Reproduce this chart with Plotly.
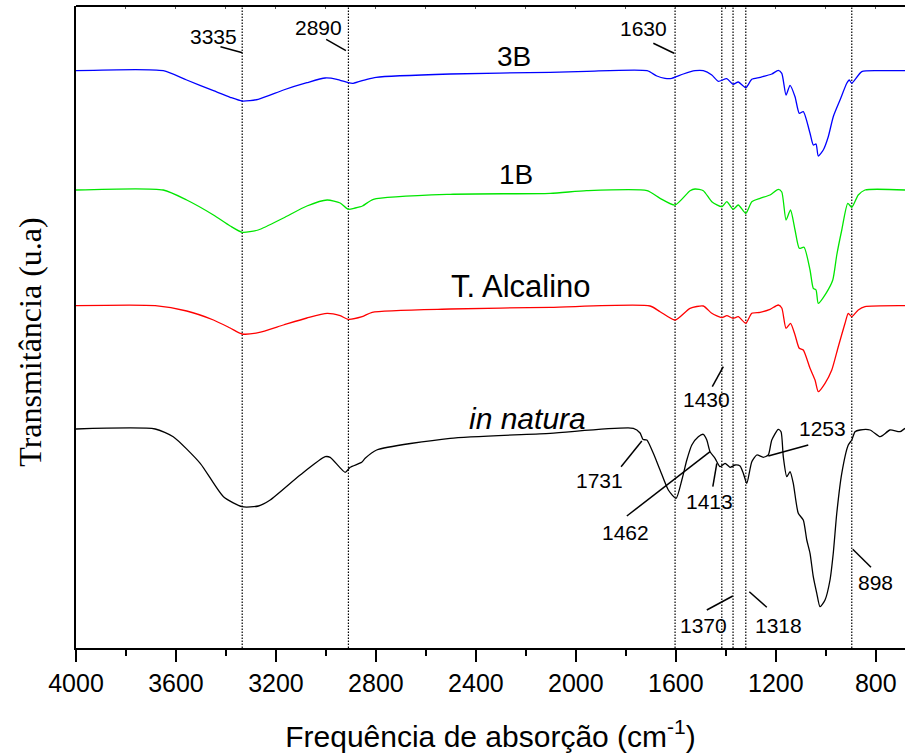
import plotly.graph_objects as go

# ---------------- data ----------------
# wavenumber (cm-1), transmittance (arbitrary units, offset spectra)
SPEC_3B = [
    (4000, 577.3), (3651, 577.3), (3557, 568), (3450, 557.3), (3383, 550.7), (3335, 547),
    (3271, 548.7), (3170, 558), (3076, 565.3), (3003, 570), (2956, 568.7), (2911, 565.3),
    (2891, 564.7), (2836, 568.7), (2799, 570.7), (2503, 574), (2103, 575.7), (1955, 576.7),
    (1715, 577.3), (1676, 572), (1643, 569.7), (1616, 569.7), (1570, 574), (1523, 577.3),
    (1490, 577.3), (1456, 573), (1430, 566.7), (1396, 569.3), (1371, 563.7), (1350, 566),
    (1320, 560.3), (1296, 568.7), (1263, 570.7), (1216, 574), (1190, 577.7), (1176, 574.7),
    (1159, 553), (1143, 562.7), (1123, 551.3), (1106, 534.7), (1090, 536.3), (1063, 514.7),
    (1050, 503), (1039, 504), (1030, 492), (1010, 498), (990, 511.3), (970, 531.3),
    (943, 548), (916, 564.7), (906, 568), (896, 564.7), (856, 576.3), (783, 577.3), (683, 577.3),
]
SPEC_1B = [
    (4000, 458), (3651, 458), (3557, 448), (3450, 433), (3383, 422), (3335, 415.7),
    (3271, 418), (3170, 430), (3076, 442), (2995, 448), (2943, 445), (2911, 438.7),
    (2883, 440), (2854, 442), (2810, 448.7), (2503, 453.7), (2103, 454.7), (1957, 457.3),
    (1715, 457.3), (1663, 449.7), (1603, 443), (1543, 457.3), (1523, 459), (1490, 457.3),
    (1456, 446.3), (1416, 441.3), (1396, 446.3), (1371, 438.7), (1350, 443), (1320, 434.7),
    (1296, 446.3), (1263, 449.7), (1223, 453), (1190, 458.7), (1176, 456), (1159, 428),
    (1141, 438), (1123, 418), (1106, 399.7), (1087, 400.7), (1063, 378), (1050, 359.7),
    (1039, 358), (1030, 344.7), (999, 354.7), (972, 368), (956, 393), (936, 418),
    (912, 444.7), (896, 440.7), (870, 453), (843, 458), (683, 458),
]
SPEC_ALC = [
    (4000, 342.3), (3683, 342.3), (3557, 337), (3450, 328), (3383, 320), (3335, 314),
    (3271, 315.3), (3170, 323), (3076, 330), (2995, 334.7), (2943, 332.3), (2911, 328.7),
    (2855, 331.3), (2815, 335.7), (2503, 339), (2103, 340.7), (1703, 342), (1663, 336.3),
    (1603, 328), (1543, 339.7), (1490, 342), (1456, 334.7), (1416, 330.3), (1396, 332.3),
    (1371, 329.7), (1350, 331.3), (1320, 324.7), (1296, 334.7), (1263, 335.7), (1223, 338.7),
    (1190, 343), (1176, 340), (1159, 319.7), (1141, 324.7), (1123, 313), (1106, 299.7),
    (1090, 298), (1063, 279.7), (1043, 268), (1030, 256.3), (1003, 264.7), (976, 278),
    (950, 301.3), (923, 324.7), (910, 334.7), (896, 331.3), (870, 338), (843, 341.3), (683, 342.3),
]
SPEC_NAT = [
    (4000, 219), (3683, 219), (3611, 211.3), (3503, 184.7), (3410, 151.3), (3335, 141.3),
    (3270, 142), (3223, 148), (3103, 173), (3003, 191.3), (2983, 190.7), (2923, 175.7),
    (2903, 180.7), (2857, 185.7), (2843, 189.7), (2797, 198), (2503, 209.7), (2103, 214.7),
    (1770, 219.7), (1743, 215), (1731, 208.5), (1716, 208), (1690, 194.7), (1663, 178),
    (1630, 158), (1599, 149.7), (1576, 168), (1556, 188), (1536, 203), (1510, 211.3),
    (1490, 213.7), (1476, 208), (1463, 196.3), (1443, 189.7), (1423, 181.3), (1403, 184.7),
    (1383, 180.7), (1363, 183), (1343, 182), (1330, 174.7), (1316, 164.7), (1296, 186.3),
    (1276, 193), (1250, 190.7), (1230, 193), (1216, 208), (1190, 218.7), (1179, 216.3),
    (1170, 191.3), (1156, 171.3), (1143, 176.3), (1130, 164.7), (1110, 134.7), (1090, 128),
    (1076, 108), (1063, 94.7), (1050, 71.3), (1036, 54.7), (1023, 41.3), (1003, 48),
    (983, 68), (970, 94.7), (956, 134.7), (936, 174.7), (910, 203), (896, 208),
    (883, 216.3), (863, 218), (823, 218), (783, 211.3), (770, 213), (743, 218),
    (703, 216.3), (683, 219.7),
]

SERIES_NAMES = ["3B", "1B", "T. Alcalino", "in natura"]
SERIES_COLORS = ["#0000ff", "#00e600", "#ff0000", "#000000"]
SERIES_LABEL_TEXT = ["3B", "1B", "T. Alcalino", "<i>in natura</i>"]
SERIES_LABEL_X = [2247, 2239, 2221, 2195]
SERIES_LABEL_Y = [592, 474, 362, 230]
SERIES_LABEL_SIZE = [28, 28, 31, 30]

# dotted reference lines (band positions)
VLINE_X = [3335, 2910, 1603, 1416, 1371, 1320, 896]

# band labels and their leader lines
PEAK_TEXT = ["3335", "2890", "1630", "1430", "1731", "1462", "1413", "1253", "898", "1370", "1318"]
PEAK_X = [3451, 3029, 1731, 1479, 1907, 1803, 1467, 1015, 803, 1491, 1191]
PEAK_Y = [612, 620.5, 619.5, 249, 168, 116, 147, 220, 66, 23, 23]
LEAD_X0 = [3422, 2999, 1690, 1454, 1819, 1796, 1452, 1230, 892, 1476, 1306]
LEAD_Y0 = [601.3, 608.7, 604.7, 261.3, 181.3, 132, 161.3, 192, 98.7, 38, 56.3]
LEAD_X1 = [3334, 2920, 1607, 1410, 1736, 1463, 1436, 1070, 819, 1372, 1236]
LEAD_Y1 = [595.3, 597.3, 594.7, 281.3, 207, 196.3, 184.7, 203, 80.7, 52, 40.7]

X_RANGE = [4000, 683]
Y_RANGE = [0, 642]

SANS = "Liberation Sans, Arial, sans-serif"
SERIF = "Liberation Serif, Times New Roman, serif"

fig = go.Figure()

for spec, name, color in zip([SPEC_3B, SPEC_1B, SPEC_ALC, SPEC_NAT], SERIES_NAMES, SERIES_COLORS):
    xs = [p[0] for p in spec]
    ys = [p[1] for p in spec]
    fig.add_trace(go.Scatter(
        x=xs, y=ys, mode="lines", name=name,
        line=dict(color=color, width=1.3, shape="spline", smoothing=0.6),
        showlegend=False, hoverinfo="skip",
    ))

# invisible trace on the top axis so its (inside) ticks are drawn
fig.add_trace(go.Scatter(x=X_RANGE, y=[None, None], xaxis="x2", yaxis="y",
                         showlegend=False, hoverinfo="skip"))

shapes = []
for vx in VLINE_X:
    shapes.append(dict(type="line", xref="x", yref="paper", x0=vx, x1=vx, y0=0, y1=1,
                       line=dict(color="black", width=1.2, dash="1.5px,1.5px"), layer="below"))
for x0, y0, x1, y1 in zip(LEAD_X0, LEAD_Y0, LEAD_X1, LEAD_Y1):
    shapes.append(dict(type="line", xref="x", yref="y", x0=x0, y0=y0, x1=x1, y1=y1,
                       line=dict(color="black", width=1.5)))
# top frame line
shapes.append(dict(type="line", xref="paper", yref="paper", x0=0, x1=1, y0=1, y1=1,
                   line=dict(color="black", width=2)))

annotations = []
for t, x, y in zip(PEAK_TEXT, PEAK_X, PEAK_Y):
    annotations.append(dict(text=t, x=x, y=y, xref="x", yref="y", showarrow=False,
                            xanchor="center", yanchor="middle",
                            font=dict(family=SANS, size=21, color="black")))
for t, x, y, s in zip(SERIES_LABEL_TEXT, SERIES_LABEL_X, SERIES_LABEL_Y, SERIES_LABEL_SIZE):
    annotations.append(dict(text=t, x=x, y=y, xref="x", yref="y", showarrow=False,
                            xanchor="center", yanchor="middle",
                            font=dict(family=SANS, size=s, color="black")))
# y-axis title (placed like the reference, slightly below the plot centre)
annotations.append(dict(text="Transmitância (u.a)", xref="paper", yref="paper",
                        x=-0.0555, y=0.477, textangle=-90, showarrow=False,
                        xanchor="center", yanchor="middle",
                        font=dict(family=SERIF, size=32, color="black")))

fig.update_layout(
    width=905, height=756,
    margin=dict(l=76, r=0, t=6, b=108),
    paper_bgcolor="white", plot_bgcolor="white",
    shapes=shapes, annotations=annotations,
    xaxis=dict(
        range=X_RANGE, showgrid=False, zeroline=False,
        showline=True, linecolor="black", linewidth=2,
        ticks="outside", ticklen=12, tickwidth=2, tickcolor="black",
        tick0=0, dtick=400,
        minor=dict(dtick=200, ticks="outside", ticklen=6, tickwidth=2, tickcolor="black", showgrid=False),
        tickfont=dict(family=SANS, size=25, color="black"),
        title=dict(text="Frequência de absorção (cm<sup>-1</sup>)",
                   font=dict(family=SANS, size=30, color="black"), standoff=30),
    ),
    xaxis2=dict(
        range=X_RANGE, overlaying="x", side="top", anchor="y",
        showgrid=False, zeroline=False, showline=False, showticklabels=False,
        ticks="inside", ticklen=3, tickwidth=1, tickcolor="#555555",
        tick0=0, dtick=200,
    ),
    yaxis=dict(
        range=Y_RANGE, showgrid=False, zeroline=False,
        showline=True, linecolor="black", linewidth=2,
        ticks="", showticklabels=False,
    ),
)

fig.write_html("out.html")
